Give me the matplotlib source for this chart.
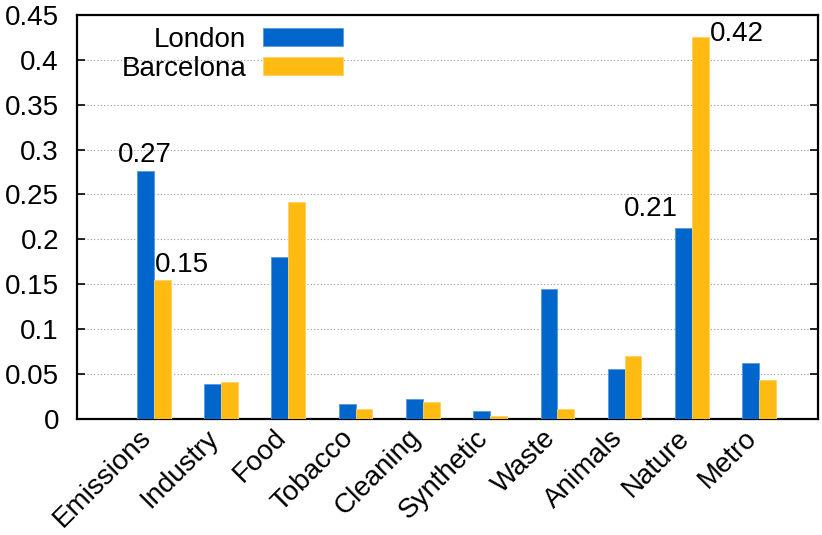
import matplotlib
matplotlib.use("Agg")
import matplotlib.pyplot as plt
import matplotlib.transforms as mtransforms
import numpy as np

categories = ["Emissions", "Industry", "Food", "Tobacco", "Cleaning",
              "Synthetic", "Waste", "Animals", "Nature", "Metro"]
london = [0.276, 0.039, 0.180, 0.016, 0.022, 0.009, 0.145, 0.055, 0.213, 0.062]
barcelona = [0.154, 0.041, 0.241, 0.011, 0.018, 0.003, 0.011, 0.070, 0.426, 0.043]
series_names = ["London", "Barcelona"]
yticks = [0, 0.05, 0.1, 0.15, 0.2, 0.25, 0.3, 0.35, 0.4, 0.45]
ytick_labels = ["0", "0.05", "0.1", "0.15", "0.2", "0.25", "0.3", "0.35", "0.4", "0.45"]

plt.rcParams['font.family'] = ['Liberation Sans', 'DejaVu Sans']
plt.rcParams['font.size'] = 20

BLUE = "#0066CC"
YELLOW = "#FFBB11"

fig = plt.figure(figsize=(8.22, 5.35), dpi=100)
ax = fig.add_axes([0.0937, 0.2176, 0.9948 - 0.0937, 0.972 - 0.2176])

x = np.arange(len(categories))
w = 0.25
ax.bar(x - w / 2, london, w, color=BLUE, edgecolor="#5599DD", linewidth=0.6,
       label=series_names[0], zorder=3)
ax.bar(x + w / 2, barcelona, w, color=YELLOW, edgecolor="#FFD066", linewidth=0.6,
       label=series_names[1], zorder=3)

ax.set_xlim(-1.14, 9.87)
ax.set_ylim(0, 0.45)
ax.set_yticks(yticks)
ax.set_yticklabels(ytick_labels)
ax.set_xticks(x)
ax.set_xticklabels(categories, rotation=45, ha="right", va="center",
                   rotation_mode="anchor")
ax.tick_params(axis="x", length=0, pad=11)
ax.tick_params(axis="y", direction="in", length=6, width=1.2, right=True, pad=13)
shift = mtransforms.ScaledTranslation(-6 / 100, 0, fig.dpi_scale_trans)
for lbl in ax.get_xticklabels():
    lbl.set_transform(lbl.get_transform() + shift)

for s in ax.spines.values():
    s.set_linewidth(1.6)
    s.set_color("black")

ax.yaxis.grid(True, linestyle=(0, (1, 2)), color="#999999", linewidth=0.8, zorder=0)
ax.set_axisbelow(True)

# value annotations
ax.annotate("0.27", xy=(x[0] - w / 2, london[0]),
            xytext=(0, 2), textcoords="offset points", ha="center", va="bottom")
ax.annotate("0.15", xy=(x[0], barcelona[0]),
            xytext=(1, 2), textcoords="offset points", ha="left", va="bottom")
ax.annotate("0.21", xy=(x[8] - w, london[8]),
            xytext=(2, 4), textcoords="offset points", ha="right", va="bottom")
ax.annotate("0.42", xy=(x[8] + w, barcelona[8]),
            xytext=(1, 2), textcoords="offset points", ha="left", va="center")

leg = ax.legend(loc="upper left", bbox_to_anchor=(0.045, 0.998), frameon=False,
                markerfirst=False, handlelength=2.9, handleheight=0.6,
                labelspacing=0.1, handletextpad=0.6, borderaxespad=0)
for t in leg.get_texts():
    t.set_ha("right")
leg._legend_box.align = "right"

fig.savefig("out.png", dpi=100)
